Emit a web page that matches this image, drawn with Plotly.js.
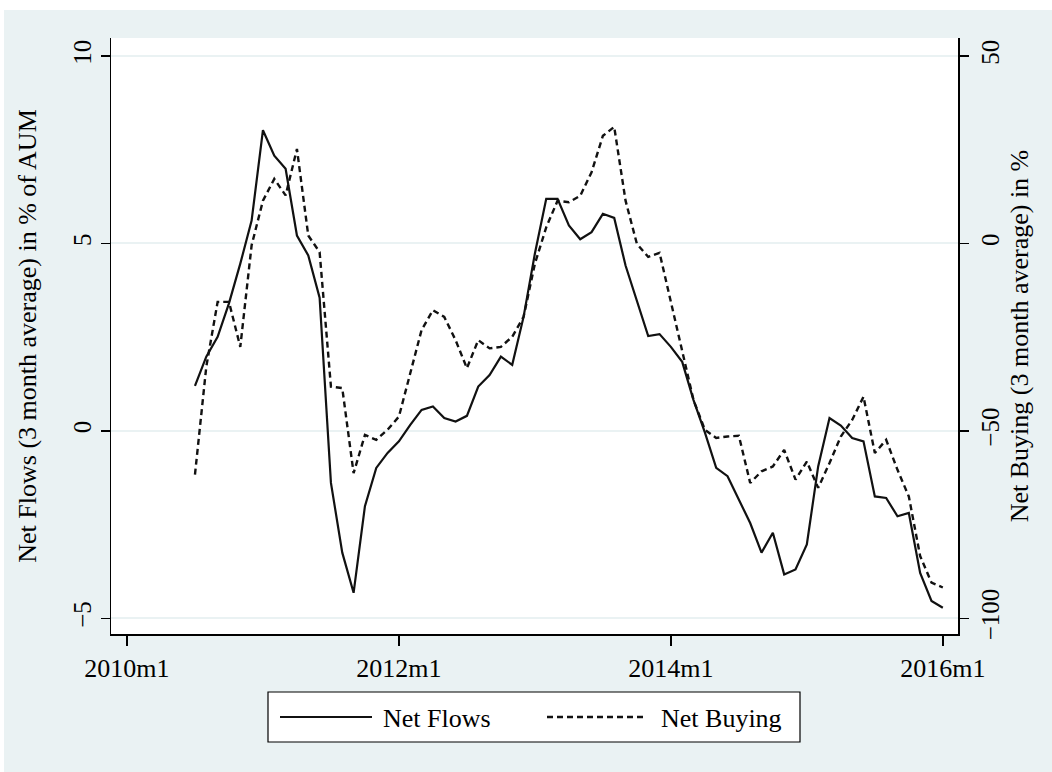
<!DOCTYPE html>
<html>
<head>
<meta charset="utf-8">
<script src="https://cdn.plot.ly/plotly-3.0.1.min.js"></script>
<style>
  html, body { margin: 0; padding: 0; background: #ffffff; }
  #chart { width: 1052px; height: 772px; }
</style>
</head>
<body>
<div id="chart"></div>
<script>
// ---- Data ----
// Months 2010m7 .. 2016m1
var startYear = 2010, startMonth = 7, nMonths = 67;
var months = [];
for (var i = 0; i < nMonths; i++) {
  var mm = startMonth - 1 + i;
  months.push((startYear + Math.floor(mm / 12)) + "m" + ((mm % 12) + 1));
}

// Net Flows (3 month average) in % of AUM  -- left axis
var netFlows = [
  1.20, 1.98, 2.51, 3.40, 4.46, 5.61,
  8.02, 7.34, 6.99, 5.21, 4.68, 3.55, -1.39, -3.25, -4.32, -2.01, -0.99, -0.59,
  -0.28, 0.16, 0.56, 0.65, 0.34, 0.25, 0.40, 1.18, 1.49, 1.98, 1.76, 3.04,
  4.73, 6.19, 6.19, 5.48, 5.11, 5.30, 5.79, 5.68, 4.41, 3.48, 2.53, 2.58,
  2.24, 1.84, 0.82, -0.04, -0.99, -1.21, -1.84, -2.46, -3.25, -2.72, -3.83, -3.70,
  -3.03, -0.95, 0.34, 0.14, -0.19, -0.28, -1.75, -1.79, -2.28, -2.19, -3.79, -4.54,
  -4.72
];

// Net Buying (3 month average) in %  -- right axis
var netBuying = [
  -61.7, -32.9, -15.6, -15.6, -27.6, -0.5,
  11.4, 17.2, 12.8, 25.2, 2.1, -2.3, -38.2, -38.6, -61.3, -51.1, -52.4, -49.7,
  -46.2, -34.7, -23.1, -17.8, -19.6, -25.8, -33.3, -25.8, -28.0, -27.6, -24.9, -19.6,
  -5.4, 4.3, 11.4, 11.0, 12.7, 19.0, 28.7, 31.1, 11.4, -0.1, -3.6, -2.5,
  -15.6, -28.5, -41.8, -49.7, -51.9, -51.5, -51.3, -63.9, -60.8, -59.5, -55.1, -63.0,
  -58.2, -65.2, -58.6, -51.5, -47.1, -40.9, -55.9, -52.4, -60.4, -67.5, -83.4, -90.5,
  -91.8
];

var xTickLabels = ["2010m1", "2012m1", "2014m1", "2016m1"];
var yLeftTicks = [-5, 0, 5, 10];
var yRightTicks = [-100, -50, 0, 50];

// month label -> numeric month index (2010m1 = 0)
function monthIndex(lbl) {
  var p = lbl.split("m");
  return (parseInt(p[0], 10) - 2010) * 12 + (parseInt(p[1], 10) - 1);
}
var xs = months.map(monthIndex);
var xTickVals = xTickLabels.map(monthIndex);

// ---- Geometry helpers (pixel -> paper fraction) ----
var W = 1052, H = 772;
var M = { l: 111, r: 94, t: 38, b: 138 };
var PW = W - M.l - M.r, PH = H - M.t - M.b;
function px(x) { return (x - M.l) / PW; }
function py(y) { return (H - M.b - y) / PH; }

var FONT = "Liberation Serif, Times New Roman, serif";
var BG = "#EAF2F3";

var traces = [
  {
    x: xs, y: netFlows, type: "scatter", mode: "lines", name: "Net Flows",
    line: { color: "#111111", width: 2.2 }, yaxis: "y", showlegend: false,
    text: months, hovertemplate: "%{text}: %{y}<extra>Net Flows</extra>"
  },
  {
    x: xs, y: netBuying, type: "scatter", mode: "lines", name: "Net Buying",
    line: { color: "#111111", width: 2.4, dash: "6px,4px" }, yaxis: "y2", showlegend: false,
    text: months, hovertemplate: "%{text}: %{y}<extra>Net Buying</extra>"
  }
];

var layout = {
  width: W, height: H,
  margin: { l: M.l, r: M.r, t: M.t, b: M.b, pad: 0 },
  paper_bgcolor: BG,
  plot_bgcolor: "#ffffff",
  font: { family: FONT, size: 26, color: "#000000" },
  showlegend: false,
  xaxis: {
    range: [-1.41, 73.34],
    tickmode: "array", tickvals: xTickVals, ticktext: xTickLabels,
    ticks: "outside", ticklen: 10, tickwidth: 1.5, tickcolor: "#000000",
    showline: true, linecolor: "#000000", linewidth: 1.5,
    showgrid: false, zeroline: false,
    tickfont: { family: FONT, size: 26, color: "#000000" }
  },
  yaxis: {
    range: [-5.42, 10.48],
    tickmode: "array", tickvals: yLeftTicks,
    ticks: "outside", ticklen: 9, tickwidth: 1.5, tickcolor: "#000000",
    tickangle: -90,
    showline: true, linecolor: "#000000", linewidth: 1.5,
    showgrid: true, gridcolor: BG, gridwidth: 2,
    zeroline: false,
    tickfont: { family: FONT, size: 25, color: "#000000" },
    title: { text: "Net Flows (3 month average) in % of AUM", standoff: 24,
             font: { family: FONT, size: 26, color: "#000000" } }
  },
  yaxis2: {
    overlaying: "y", side: "right",
    range: [-104.2, 54.8],
    tickmode: "array", tickvals: yRightTicks,
    ticks: "outside", ticklen: 9, tickwidth: 1.5, tickcolor: "#000000",
    tickangle: -90,
    showline: true, linecolor: "#000000", linewidth: 1.5,
    showgrid: false, zeroline: false,
    tickfont: { family: FONT, size: 25, color: "#000000" },
    title: { text: "Net Buying (3 month average) in %", standoff: 7,
             font: { family: FONT, size: 26, color: "#000000" } }
  },
  shapes: [
    // white outer strips (top and left) like the reference image
    { type: "rect", xref: "paper", yref: "paper", layer: "below",
      x0: px(0), x1: px(W), y0: py(10), y1: py(0), fillcolor: "#ffffff", line: { width: 0 } },
    { type: "rect", xref: "paper", yref: "paper", layer: "below",
      x0: px(0), x1: px(4), y0: py(H), y1: py(0), fillcolor: "#ffffff", line: { width: 0 } },
    // legend box
    { type: "rect", xref: "paper", yref: "paper",
      x0: px(268), x1: px(800), y0: py(742), y1: py(692),
      fillcolor: "#ffffff", line: { color: "#000000", width: 1.2 } },
    // legend keys
    { type: "line", xref: "paper", yref: "paper",
      x0: px(280), x1: px(372), y0: py(717), y1: py(717),
      line: { color: "#111111", width: 2.2 } },
    { type: "line", xref: "paper", yref: "paper",
      x0: px(547), x1: px(644), y0: py(717), y1: py(717),
      line: { color: "#111111", width: 2.4, dash: "6px,4px" } }
  ],
  annotations: [
    { xref: "paper", yref: "paper", x: px(381), y: py(718), xanchor: "left", yanchor: "middle",
      text: "Net Flows", showarrow: false, font: { family: FONT, size: 26, color: "#000000" } },
    { xref: "paper", yref: "paper", x: px(659), y: py(718), xanchor: "left", yanchor: "middle",
      text: "Net Buying", showarrow: false, font: { family: FONT, size: 26, color: "#000000" } }
  ]
};

Plotly.newPlot("chart", traces, layout, { displayModeBar: false, staticPlot: true });
</script>
</body>
</html>
